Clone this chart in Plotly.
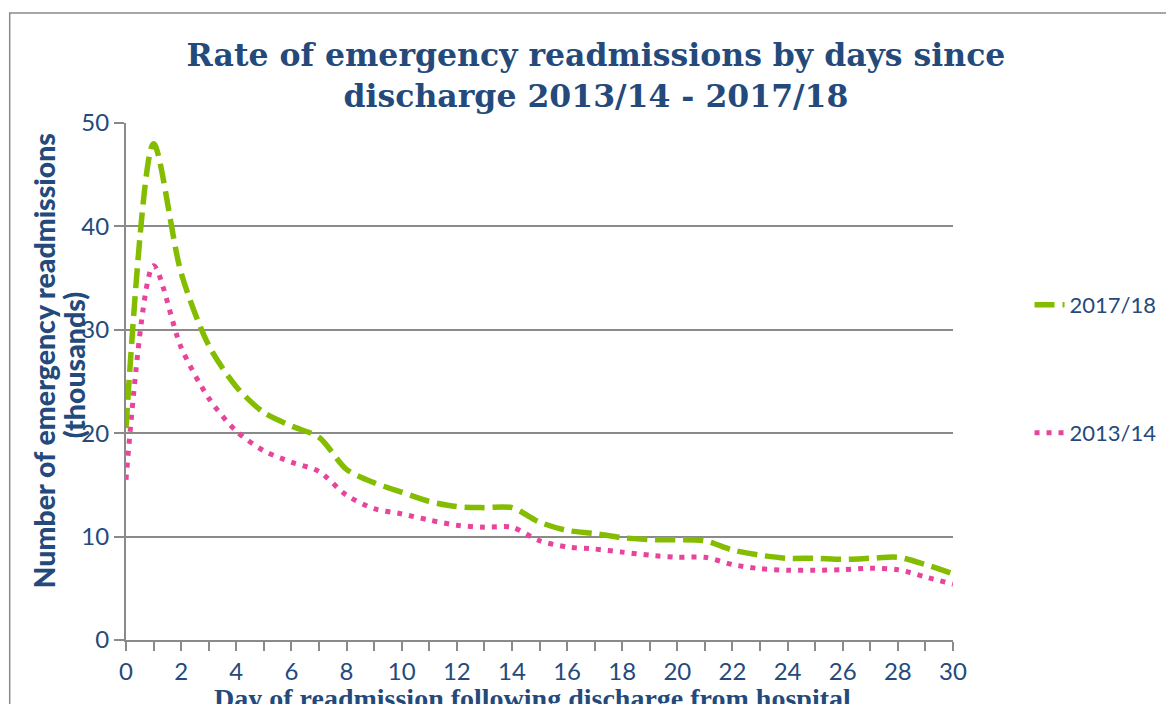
import plotly.graph_objects as go

days = list(range(0, 31))
y_2017 = [20.5, 48.0, 35.5, 28.5, 24.5, 22.0, 20.7, 19.6, 16.5, 15.2, 14.3, 13.4, 12.9, 12.8, 12.8,
          11.4, 10.6, 10.3, 9.9, 9.7, 9.7, 9.6, 8.7, 8.2, 7.9, 7.9, 7.8, 7.9, 8.0, 7.3, 6.4]
y_2013 = [15.5, 36.2, 28.3, 23.4, 20.2, 18.3, 17.2, 16.3, 14.0, 12.7, 12.2, 11.6, 11.1, 10.9, 10.9,
          9.6, 9.0, 8.8, 8.5, 8.2, 8.0, 8.0, 7.3, 6.9, 6.75, 6.75, 6.8, 6.95, 6.8, 6.1, 5.4]
x_ticks = list(range(0, 31, 2))
y_ticks = [0, 10, 20, 30, 40, 50]

BLUE = "#244a7c"
GREEN = "#84bd00"
PINK = "#e8449b"
GRAY = "#8a8a8a"

# page has an 8px body margin; figure coordinates = screen coordinates - 8
W, H = 1166, 696
L, R, T, B = 118, 950, 115, 632


def px_x(p):
    return (p - L) / (R - L)


def px_y(p):
    return (B - p) / (B - T)


fig = go.Figure()
fig.add_trace(go.Scatter(x=days, y=y_2013, name="2013/14", mode="lines",
                         line=dict(color=PINK, width=5, dash="5px,7px", shape="spline", smoothing=0.8),
                         legend="legend2"))
fig.add_trace(go.Scatter(x=days, y=y_2017, name="2017/18", mode="lines",
                         line=dict(color=GREEN, width=5.5, dash="20px,8px", shape="spline", smoothing=0.8),
                         legend="legend"))

fig.update_layout(
    width=W, height=H,
    margin=dict(l=L, r=W - R, t=T, b=H - B),
    paper_bgcolor="white", plot_bgcolor="white",
    title=dict(text="Rate of emergency readmissions by days since<br>discharge 2013/14 - 2017/18",
               font=dict(family="DejaVu Serif", size=31.5, color=BLUE, weight="bold"),
               x=588 / W, xanchor="center", xref="container",
               y=1 - 58 / H, yanchor="top", yref="container"),
    xaxis=dict(range=[0, 30], tickvals=x_ticks, ticks="outside", ticklen=9, tickwidth=2, tickcolor=GRAY,
               minor=dict(dtick=1, ticks="outside", ticklen=9, tickwidth=2, tickcolor=GRAY),
               showline=True, linecolor=GRAY, linewidth=2, showgrid=False, zeroline=False,
               tickfont=dict(family="Lato", size=24, color=BLUE)),
    yaxis=dict(range=[0, 50], tickvals=y_ticks, ticks="outside", ticklen=10, tickwidth=2, tickcolor=GRAY,
               showline=True, linecolor=GRAY, linewidth=2, showgrid=True, gridcolor=GRAY, gridwidth=2,
               zeroline=False, tickfont=dict(family="Lato", size=24, color=BLUE)),
    legend=dict(x=px_x(1027), y=px_y(297), xanchor="left", yanchor="middle",
                font=dict(family="Lato", size=22, color=BLUE), bgcolor="rgba(0,0,0,0)"),
    legend2=dict(x=px_x(1027), y=px_y(425), xanchor="left", yanchor="middle",
                 font=dict(family="Lato", size=22, color=BLUE), bgcolor="rgba(0,0,0,0)"),
    showlegend=True,
)

fig.add_annotation(text="Number of emergency readmissions", xref="paper", yref="paper",
                   x=px_x(36), y=px_y(353), xanchor="center", yanchor="middle", textangle=-90,
                   showarrow=False, font=dict(family="Lato", size=28.5, color=BLUE, weight=900))
fig.add_annotation(text="(thousands)", xref="paper", yref="paper",
                   x=px_x(66), y=px_y(357), xanchor="center", yanchor="middle", textangle=-90,
                   showarrow=False, font=dict(family="Lato", size=28.5, color=BLUE, weight=900))
fig.add_annotation(text="Day of readmission following discharge from hospital", xref="paper", yref="paper",
                   x=px_x(527), y=px_y(673), xanchor="center", yanchor="top",
                   showarrow=False, font=dict(family="Liberation Sans Narrow", size=28, color=BLUE, weight="bold"))

fig.add_shape(type="rect", xref="paper", yref="paper",
              x0=px_x(1), x1=px_x(1200), y0=px_y(760), y1=px_y(5),
              line=dict(color=GRAY, width=1.5), layer="below")

fig.write_html("out.html")
